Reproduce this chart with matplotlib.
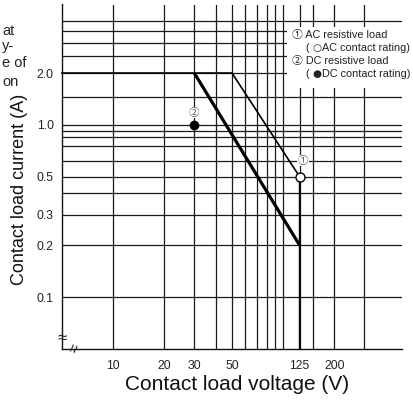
import matplotlib
matplotlib.use("Agg")
import matplotlib.pyplot as plt
from matplotlib.patches import Rectangle

plt.rcParams['font.family'] = ['Liberation Sans', 'Noto Sans CJK JP', 'DejaVu Sans']

# rating curves (volts, amps)
ac_volts = [5, 50, 125, 125]
ac_amps = [2.0, 2.0, 0.5, 0.05]
dc_volts = [5, 30, 125]
dc_amps = [2.0, 2.0, 0.2]

# contact rating points
ac_point_v, ac_point_a = 125, 0.5
dc_point_v, dc_point_a = 30, 1.0

# grid lines as drawn on the sheet
grid_volts = [10, 20, 30, 40, 50, 60, 70, 80, 90, 100, 125, 150, 200, 300]
grid_amps = [0.1, 0.2, 0.3, 0.4, 0.5, 0.62, 0.75, 0.85, 0.92, 1.0,
             1.45, 2.0, 2.5, 3.0, 3.5, 4.0]

xtick_vals = [10, 20, 30, 50, 125, 200]
xtick_labels = ['10', '20', '30', '50', '125', '200']
ytick_vals = [0.1, 0.2, 0.3, 0.5, 1.0, 2.0]
ytick_labels = ['0.1', '0.2', '0.3', '0.5', '1.0', '2.0']

legend_heads = ["\u2460 AC resistive load", "\u2461 DC resistive load"]
legend_marks = ["\u25cb", "\u25cf"]
legend_notes = ["AC contact rating)", "DC contact rating)"]
side_text = ["at", "y-", "e of", "on"]

W, H = 413, 403


def fx(px):
    return px / W


def fy(py):
    return 1 - py / H


fig = plt.figure(figsize=(W / 100, H / 100), dpi=100)
ax = fig.add_axes([fx(62), fy(349), (402 - 62) / W, (349 - 4.5) / H])
ax.set_xscale('log')
ax.set_yscale('log')
ax.set_xlim(5, 500)
ax.set_ylim(0.05, 5)

for s in ['top', 'right']:
    ax.spines[s].set_visible(False)
for s in ['left', 'bottom']:
    ax.spines[s].set_linewidth(1.0)
    ax.spines[s].set_color('#111111')

ax.minorticks_off()
ax.set_xticks(xtick_vals, labels=xtick_labels)
ax.set_yticks(ytick_vals, labels=ytick_labels)
ax.tick_params(axis='x', length=0, pad=8, labelsize=8.8, colors='#222222')
ax.tick_params(axis='y', length=0, pad=6, labelsize=8.8, colors='#222222')

for v in grid_volts:
    ax.axvline(v, color='#1a1a1a', lw=0.9, zorder=1)
for a in grid_amps:
    ax.axhline(a, color='#1a1a1a', lw=0.9, zorder=1)

# curves: flat part of DC is shared with the thin AC line
ax.plot(ac_volts, ac_amps, color='black', lw=1.2, zorder=2, clip_on=False)
ax.plot(dc_volts[1:], dc_amps[1:], color='black', lw=2.3, zorder=2,
        solid_capstyle='butt')

ax.plot(ac_point_v, ac_point_a, 'o', mfc='white', mec='black', ms=6.5,
        mew=1.0, zorder=5)
ax.plot(dc_point_v, dc_point_a, 'o', mfc='black', mec='black', ms=6,
        zorder=5)

ax.text(dc_point_v, 1.18, '\u2461', ha='center', va='center', fontsize=7.5,
        color='#555555', bbox=dict(fc='white', ec='none', pad=0.6), zorder=4)
ax.text(131, 0.62, '\u2460', ha='center', va='center', fontsize=7.5,
        color='#555555', bbox=dict(fc='white', ec='none', pad=0.6), zorder=4)

# legend block
fig.add_artist(Rectangle((fx(287), fy(88)), (W - 287) / W, 61 / H,
                         transform=fig.transFigure, fc='white', ec='none',
                         zorder=3))
for i in range(2):
    y0 = 35 + 26 * i
    fig.text(fx(292), fy(y0), legend_heads[i], ha='left', va='center',
             fontsize=7.8, color='#222222', zorder=4)
    fig.text(fx(305), fy(y0 + 13), '(', ha='left', va='center',
             fontsize=7.8, color='#222222', zorder=4)
    fig.text(fx(316.5), fy(y0 + 13), legend_marks[i], ha='center',
             va='center', fontsize=7.5, family='DejaVu Sans',
             color='#222222', zorder=4)
    fig.text(fx(321.5), fy(y0 + 13), legend_notes[i], ha='left',
             va='center', fontsize=7.8, color='#222222', zorder=4)

# clipped text from the neighbouring column
for txt, y in zip(side_text, [31, 46, 63, 82]):
    fig.text(fx(2), fy(y), txt, ha='left', va='center', fontsize=10.5,
             color='#222222')

# axis break marks
fig.text(fx(62.5), fy(338), '\u2248', ha='center', va='center', fontsize=12,
         color='#222222')
fig.text(fx(75), fy(348), '\u2248', ha='center', va='center', fontsize=11,
         rotation=70, color='#222222')

fig.text(fx(20), fy(189), 'Contact load current (A)', rotation=90,
         ha='center', va='center', fontsize=13, color='#111111')
fig.text(fx(237), fy(385), 'Contact load voltage (V)', ha='center',
         va='center', fontsize=15, color='#111111')

fig.savefig('out.png', dpi=100)
